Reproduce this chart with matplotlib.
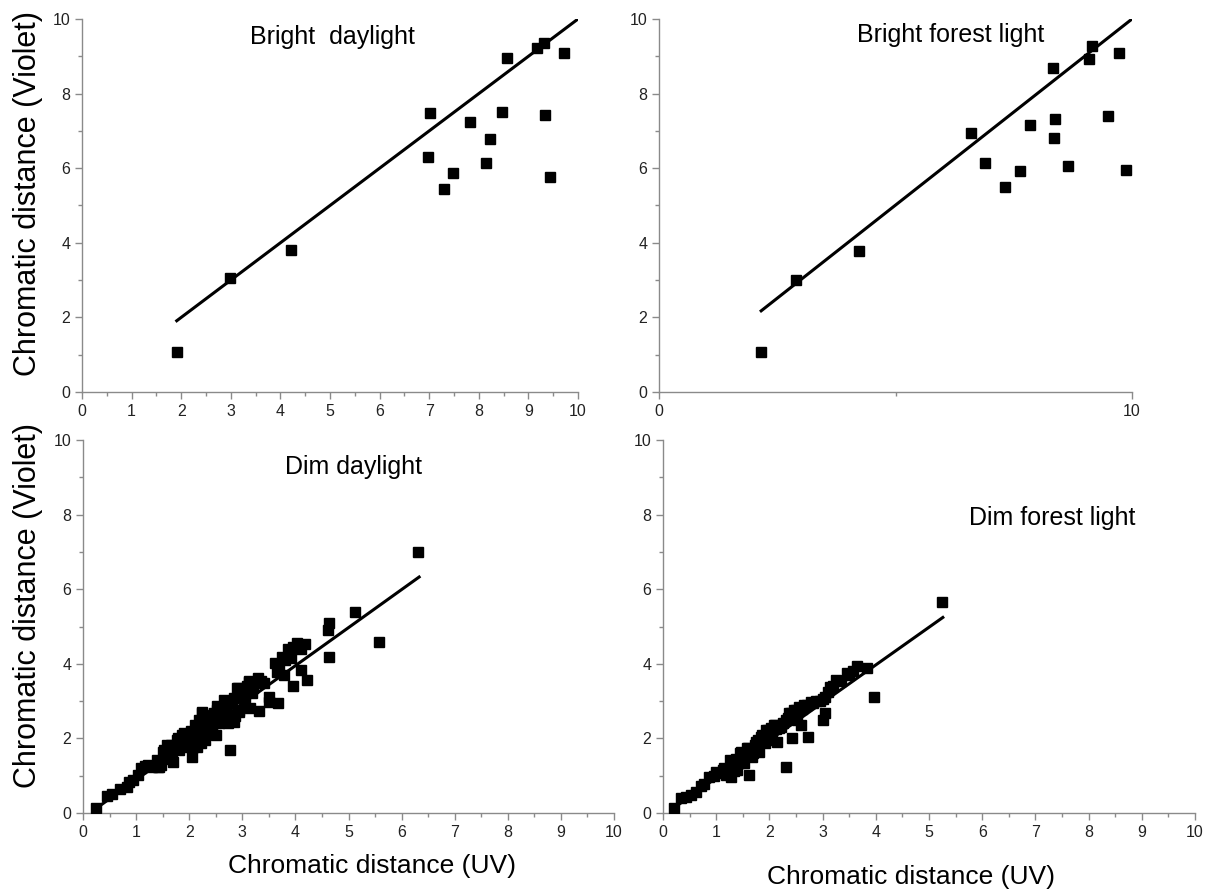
import numpy as np
import matplotlib
matplotlib.use("Agg")
import matplotlib.pyplot as plt
from matplotlib.ticker import MultipleLocator, FixedLocator

plt.rcParams['font.family'] = ['Liberation Sans', 'DejaVu Sans']

# --- données ---
titles = ["Bright  daylight", "Bright forest light", "Dim daylight", "Dim forest light"]

# Bright daylight
bd_x = [1.91, 2.99, 4.21, 7.01, 6.97, 7.30, 7.48, 7.83, 8.23, 8.14, 8.47, 8.56, 9.17, 9.31, 9.34, 9.43, 9.71]
bd_y = [1.07, 3.06, 3.81, 7.47, 6.31, 5.45, 5.87, 7.24, 6.78, 6.14, 7.51, 8.95, 9.22, 9.35, 7.43, 5.77, 9.10]

# Bright forest light
bf_x = [2.16, 2.89, 4.23, 6.60, 6.89, 7.32, 7.64, 7.84, 8.32, 8.37, 8.35, 8.65, 9.09, 9.16, 9.49, 9.72, 9.88]
bf_y = [1.07, 3.00, 3.78, 6.94, 6.15, 5.49, 5.92, 7.16, 8.69, 7.31, 6.82, 6.07, 8.94, 9.28, 7.41, 9.08, 5.94]

# Dim daylight
dd_x = [0.25, 0.45, 0.54, 0.70, 0.82, 0.86, 0.95, 1.04, 1.10, 1.16, 1.22, 1.30, 1.34, 1.39, 1.42, 1.43,
        1.47, 1.50, 1.53, 1.55, 1.58, 1.60, 1.65, 1.67, 1.70, 1.72, 1.77, 1.78, 1.80, 1.85, 1.87, 1.90,
        1.93, 1.96, 2.00, 2.03, 2.05, 2.08, 2.09, 2.11, 2.14, 2.15, 2.18, 2.18, 2.20, 2.22, 2.24, 2.25,
        2.27, 2.28, 2.30, 2.33, 2.35, 2.37, 2.40, 2.42, 2.43, 2.44, 2.47, 2.50, 2.52, 2.53, 2.56, 2.58,
        2.60, 2.62, 2.66, 2.68, 2.70, 2.72, 2.74, 2.76, 2.80, 2.84, 2.84, 2.86, 2.90, 2.91, 2.93, 2.94,
        2.97, 2.99, 3.03, 3.05, 3.08, 3.12, 3.13, 3.14, 3.19, 3.20, 3.25, 3.30, 3.31, 3.35, 3.40, 3.50,
        3.51, 3.61, 3.65, 3.67, 3.70, 3.74, 3.78, 3.80, 3.86, 3.91, 3.95, 3.96, 4.03, 4.06, 4.10, 4.11,
        4.19, 4.21, 4.61, 4.64, 4.64, 5.13, 5.57, 6.30]
dd_y = [0.14, 0.46, 0.52, 0.65, 0.70, 0.83, 0.88, 1.01, 1.20, 1.25, 1.28, 1.24, 1.26, 1.42, 1.24, 1.24,
        1.30, 1.64, 1.69, 1.45, 1.82, 1.58, 1.83, 1.51, 1.37, 1.72, 1.95, 2.01, 1.68, 1.90, 2.09, 2.14,
        2.05, 1.77, 1.85, 2.20, 1.51, 1.78, 1.96, 2.36, 1.77, 2.32, 2.13, 2.50, 2.05, 1.88, 2.67, 2.72,
        2.31, 2.05, 1.95, 2.20, 2.55, 2.37, 2.49, 2.30, 2.13, 2.63, 2.68, 2.10, 2.76, 2.86, 2.41, 2.60,
        2.85, 2.45, 3.04, 2.98, 2.70, 2.45, 2.40, 1.70, 2.95, 2.45, 3.08, 2.60, 3.34, 3.35, 2.72, 2.77,
        3.25, 3.12, 3.22, 3.00, 3.40, 3.52, 3.53, 2.81, 3.21, 3.35, 3.50, 3.61, 2.74, 3.55, 3.48, 3.12,
        2.98, 4.01, 3.79, 2.94, 3.95, 4.19, 3.70, 4.10, 4.39, 4.15, 4.45, 3.41, 4.57, 4.51, 4.40, 3.84,
        4.53, 3.57, 4.91, 5.09, 4.18, 5.39, 4.58, 7.00]

# Dim forest light
df_x = [0.20, 0.34, 0.44, 0.53, 0.62, 0.72, 0.78, 0.87, 0.95, 1.00, 1.05, 1.12, 1.15, 1.19, 1.22, 1.25,
        1.28, 1.30, 1.33, 1.37, 1.40, 1.42, 1.44, 1.47, 1.48, 1.50, 1.53, 1.55, 1.57, 1.59, 1.62, 1.63,
        1.66, 1.68, 1.70, 1.72, 1.75, 1.77, 1.79, 1.81, 1.84, 1.87, 1.91, 1.94, 1.97, 1.98, 2.01, 2.03,
        2.05, 2.09, 2.10, 2.13, 2.15, 2.18, 2.22, 2.26, 2.31, 2.32, 2.35, 2.37, 2.40, 2.43, 2.46, 2.50,
        2.51, 2.56, 2.59, 2.62, 2.65, 2.70, 2.73, 2.78, 2.82, 2.88, 2.95, 3.00, 3.01, 3.04, 3.04, 3.10,
        3.14, 3.20, 3.26, 3.35, 3.45, 3.50, 3.58, 3.64, 3.83, 3.97, 5.25]
df_y = [0.13, 0.39, 0.44, 0.48, 0.57, 0.72, 0.79, 0.97, 1.00, 1.11, 1.08, 1.15, 1.20, 1.02, 1.10, 1.42,
        0.97, 1.30, 1.12, 1.46, 1.15, 1.35, 1.60, 1.64, 1.55, 1.43, 1.33, 1.60, 1.74, 1.73, 1.02, 1.70,
        1.52, 1.51, 1.62, 1.83, 1.91, 1.80, 1.96, 1.64, 2.04, 2.10, 1.87, 2.22, 2.23, 2.10, 1.96, 2.27,
        2.15, 2.36, 2.36, 2.25, 1.91, 2.27, 2.30, 2.40, 2.49, 1.24, 2.55, 2.67, 2.67, 2.00, 2.76, 2.75,
        2.50, 2.85, 2.36, 2.80, 2.89, 2.90, 2.03, 2.98, 2.94, 3.00, 2.99, 3.05, 2.50, 2.67, 3.12, 3.25,
        3.39, 3.40, 3.57, 3.55, 3.74, 3.70, 3.80, 3.94, 3.90, 3.10, 5.66]

# droites de régression : pente, ordonnée à l'origine, xmin, xmax
fits = [(1.00, 0.00, 1.91, 10.0),
        (0.998, 0.02, 2.16, 10.0),
        (1.02, -0.13, 0.25, 6.33),
        (1.01, -0.07, 0.20, 5.26)]

data = [(bd_x, bd_y), (bf_x, bf_y), (dd_x, dd_y), (df_x, df_y)]

# positions des axes (en pixels)
W, H = 1206, 893
rects = [(82, 19, 578, 392), (659, 19, 1132, 392), (83, 440, 614, 813), (663, 440, 1195, 813)]
title_pos = [(5.04, 9.52), (6.17, 9.57), (5.10, 9.28), (7.31, 7.90)]

fig = plt.figure(figsize=(W / 100, H / 100), dpi=100)
grey = '#8a8a8a'

for i in range(4):
    x0, y0, x1, y1 = rects[i]
    ax = fig.add_axes([x0 / W, 1 - y1 / H, (x1 - x0) / W, (y1 - y0) / H])
    xs, ys = data[i]
    ax.plot(xs, ys, 's', color='black', markersize=7, zorder=3)
    slope, icpt, xa, xb = fits[i]
    lx = np.array([xa, xb])
    ax.plot(lx, slope * lx + icpt, color='black', lw=2.2, zorder=2)

    ax.set_xlim(0, 10)
    ax.set_ylim(0, 10)
    for s in ['top', 'right']:
        ax.spines[s].set_visible(False)
    for s in ['left', 'bottom']:
        ax.spines[s].set_color(grey)
        ax.spines[s].set_linewidth(1)

    if i == 1:
        ax.xaxis.set_major_locator(FixedLocator([0, 10]))
        ax.xaxis.set_minor_locator(FixedLocator([5]))
    else:
        ax.xaxis.set_major_locator(MultipleLocator(1))
        ax.xaxis.set_minor_locator(MultipleLocator(0.5))
    ax.yaxis.set_major_locator(MultipleLocator(2))
    ax.yaxis.set_minor_locator(MultipleLocator(1))
    ax.tick_params(which='major', direction='out', length=5, width=1, color=grey,
                   labelsize=11.5, labelcolor='#222222')
    ax.tick_params(which='minor', direction='out', length=3, width=1, color=grey)
    ax.text(title_pos[i][0], title_pos[i][1], titles[i], fontsize=18, ha='center', va='center')

# titres des axes
fig.text(28 / W, 1 - 193 / H, "Chromatic distance (Violet)", rotation=90, fontsize=22,
         ha='center', va='center')
fig.text(28 / W, 1 - 606 / H, "Chromatic distance (Violet)", rotation=90, fontsize=22,
         ha='center', va='center')
fig.text(372 / W, 1 - 866 / H, "Chromatic distance (UV)", fontsize=19, ha='center', va='center')
fig.text(911 / W, 1 - 877 / H, "Chromatic distance (UV)", fontsize=19, ha='center', va='center')

fig.savefig("out.png", dpi=100)
